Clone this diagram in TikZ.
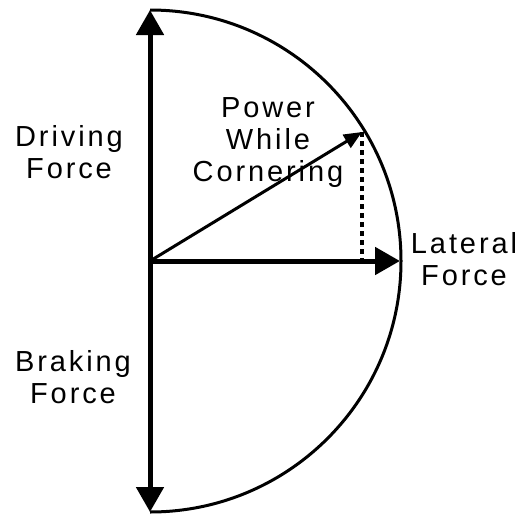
\documentclass[tikz,border=0pt]{standalone}
\usepackage{fontspec}
\usepackage{tikz}
\usetikzlibrary{arrows.meta, positioning, calc}
\newfontfamily\lblfont[LetterSpace=10]{Liberation Sans}

\tikzset{
  force/.style={line width=5pt, -{Triangle[length=25pt, width=27pt]}},
  power/.style={line width=3pt, -{Triangle[length=18pt, width=15pt]}},
  label/.style={align=center, font=\lblfont\fontsize{29}{32}\selectfont, inner sep=0pt}
}

\begin{document}
\begin{tikzpicture}[x=1pt, y=-1pt]
      \useasboundingbox (0,0) rectangle (522,514);
      \coordinate (o) at (150,261);
      \coordinate (top) at (150,10);
      \coordinate (bot) at (150,512);
      \coordinate (lat) at (400,261);
      \coordinate (pw) at (362,132);
      % envelope of the available grip
      \draw[line width=3pt] (top) arc[start angle=-90, end angle=90, radius=251];
      \draw[force, {Triangle[length=25pt, width=27pt]}-{Triangle[length=25pt, width=27pt]}] (top) -- (bot);
      \draw[force] (o) -- (lat);
      \draw[power] (o) -- (pw);
      \draw[line width=3.2pt, dash pattern=on 5pt off 4pt] (pw) -- (pw |- o);
      \node[label] (drv) at (69,152) {Driving\\Force};
      \node[label] (brk) at (73,377) {Braking\\Force};
      \node[label] (pwc) at (268,143) {Power\\While\\Cornering};
      \node[label] (latf) at (464,259) {Lateral\\Force};
    \end{tikzpicture}
\end{document}
